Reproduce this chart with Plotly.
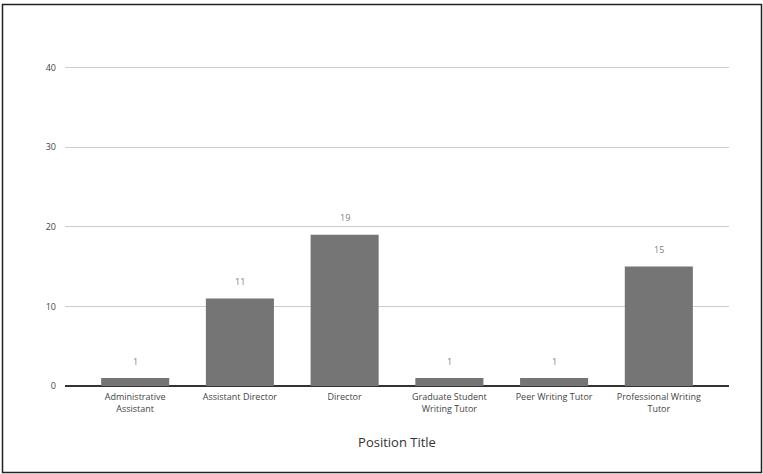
import plotly.graph_objects as go

categories = [
    "Administrative Assistant",
    "Assistant Director",
    "Director",
    "Graduate Student Writing Tutor",
    "Peer Writing Tutor",
    "Professional Writing Tutor",
]
tick_labels = [
    "Administrative<br>Assistant",
    "Assistant Director",
    "Director",
    "Graduate Student<br>Writing Tutor",
    "Peer Writing Tutor",
    "Professional Writing<br>Tutor",
]
counts = [1, 11, 19, 1, 1, 15]
y_ticks = [0, 10, 20, 30, 40]

FONT = "Open Sans, Lato, sans-serif"

fig = go.Figure()
fig.add_trace(go.Bar(
    x=categories,
    y=counts,
    width=0.65,
    marker=dict(color="#757575", line=dict(width=0)),
    hoverinfo="skip",
))

# value labels floating above each bar
for cat, val in zip(categories, counts):
    fig.add_annotation(
        x=cat, y=val, text=str(val), showarrow=False,
        yshift=17, font=dict(family=FONT, size=9, color="#808080"),
    )

# outer frame around the whole chart
fig.add_shape(
    type="rect", xref="paper", yref="paper",
    x0=(2.5 - 65) / 664, x1=(761.5 - 65) / 664,
    y0=(386 - 472.5) / 320, y1=(386 - 4.5) / 320,
    line=dict(color="#222222", width=1.5), fillcolor="rgba(0,0,0,0)",
    layer="below",
)

fig.update_layout(
    width=763, height=474,
    margin=dict(l=65, r=34, t=66, b=88),
    paper_bgcolor="white", plot_bgcolor="white",
    showlegend=False,
    bargap=0.35,
    font=dict(family=FONT, size=9, color="#444444"),
    xaxis=dict(
        type="category",
        tickmode="array", tickvals=categories, ticktext=tick_labels,
        range=[-0.67, 5.67],
        showgrid=False, ticks="", showline=False,
        ticklabelstandoff=4,
        tickfont=dict(size=9, color="#444444"),
        title=dict(text="Position Title", font=dict(family=FONT, size=13, color="#333333"), standoff=24),
    ),
    yaxis=dict(
        range=[0, 40.2], tickvals=y_ticks,
        showgrid=True, gridcolor="#cccccc", gridwidth=1,
        zeroline=True, zerolinecolor="#333333", zerolinewidth=2,
        showline=False, ticks="", ticklabelstandoff=8,
        tickfont=dict(size=9, color="#444444"),
    ),
)

fig.write_html("out.html")
